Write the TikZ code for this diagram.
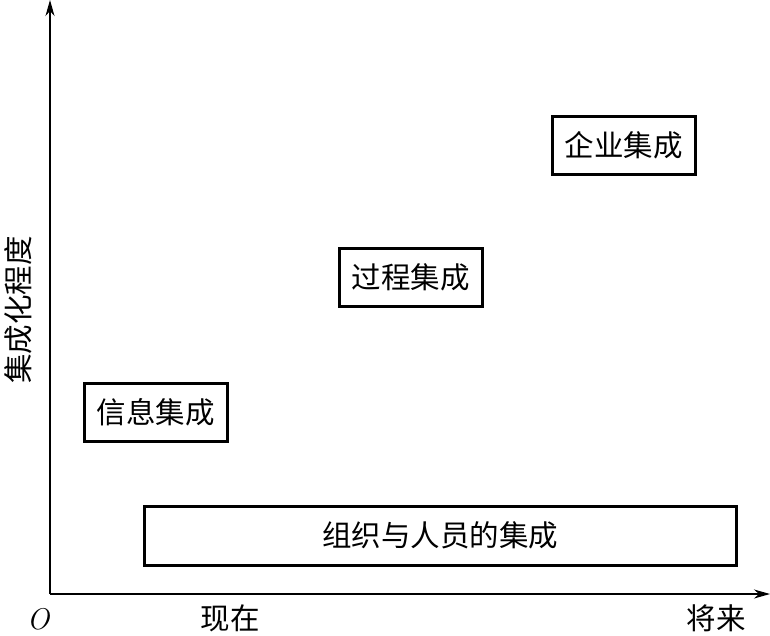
\documentclass[tikz,border=0pt]{standalone}
\usepackage{fontspec}
\newfontfamily\cjk{Noto Sans CJK SC}
\usetikzlibrary{arrows.meta,positioning}

\begin{document}
\begin{tikzpicture}[x=1pt,y=-1pt,font=\cjk\fontsize{29.5}{32}\selectfont,
  stage/.style={rectangle, draw=black, line width=2.6pt, inner sep=0pt, anchor=north west},
  axis/.style={-{Stealth[length=16pt,width=9pt,inset=5pt]}, line width=1.1pt},
  tick/.style={inner sep=0pt}]
\useasboundingbox (0,0) rectangle (770,635);
\coordinate (o) at (50,594);
\coordinate (ytop) at (50,0);
\coordinate (xend) at (770,594);
\draw[axis] (o) -- (ytop);
\draw[axis] (o) -- (xend);
\node[stage, minimum width=143pt, minimum height=58pt] (qiye) at (551,115) {企业集成};
\node[stage, minimum width=143pt, minimum height=58pt] (guocheng) at (338,247) {过程集成};
\node[stage, minimum width=143pt, minimum height=58pt] (xinxi) at (83,382) {信息集成};
\node[stage, minimum width=592pt, minimum height=59pt] (zuzhi) at (143,505) {组织与人员的集成};
\node[tick, font=\rmfamily\itshape\fontsize{30}{32}\selectfont] (olab) at (38,619) {O};
\node[tick] (now) at (230,618) {现在};
\node[tick] (future) at (716,618) {将来};
\node[tick, rotate=90] (ylab) at (18,310) {集成化程度};
\end{tikzpicture}
\end{document}
